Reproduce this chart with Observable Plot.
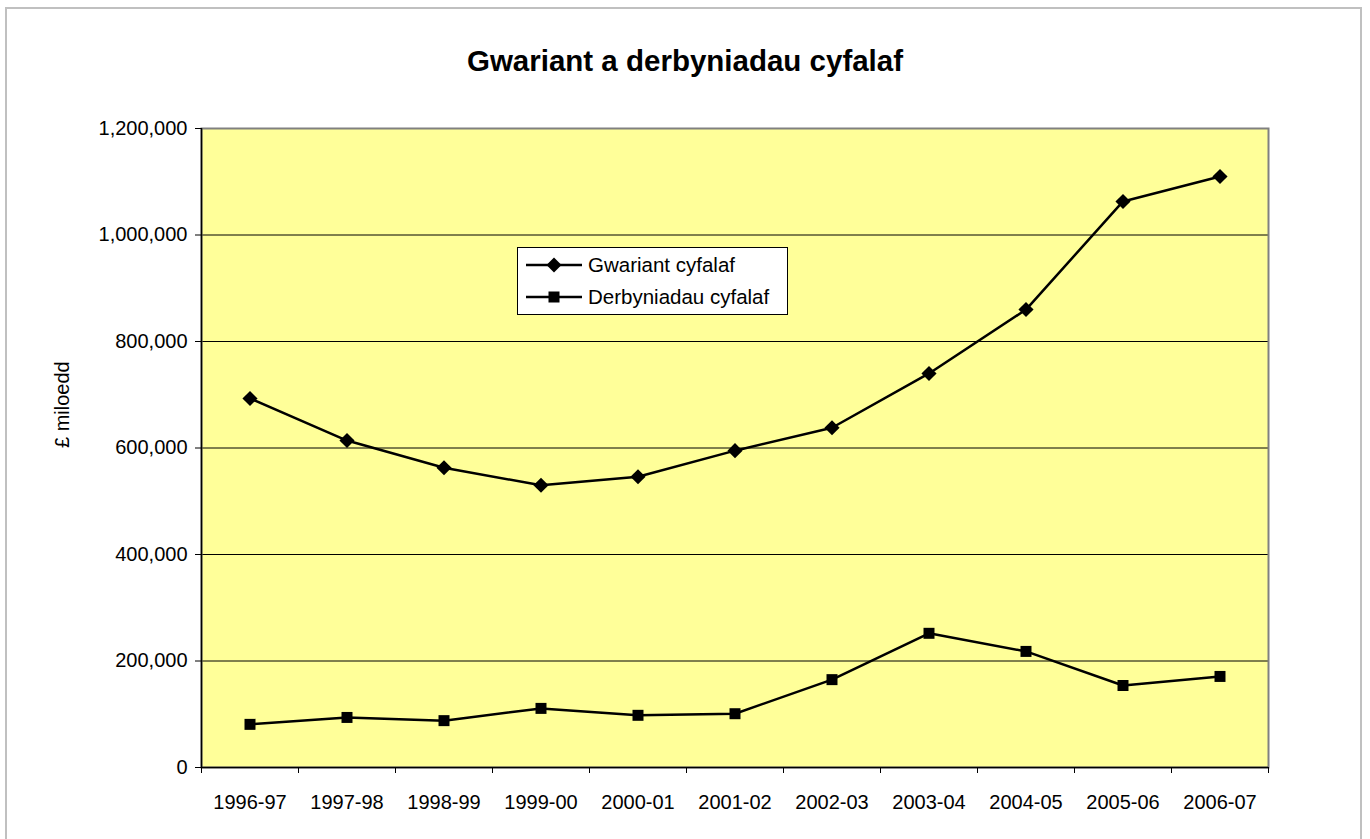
<!DOCTYPE html>
<html>
<head>
<meta charset="utf-8">
<script src="https://cdn.jsdelivr.net/npm/d3@7"></script>
<script src="https://cdn.jsdelivr.net/npm/@observablehq/plot@0.6"></script>
<style>
  html, body { margin: 0; padding: 0; background: #fff; }
  body { width: 1370px; height: 839px; position: relative; overflow: hidden; font-family: "Liberation Sans", Arial, sans-serif; }
  #frame { position: absolute; left: 5px; top: 7px; width: 1357px; height: 900px; border: 2px solid #c0c0c0; box-sizing: border-box; }
  #title { position: absolute; left: 0; width: 1370px; top: 44px; text-align: center; font-weight: bold; font-size: 29.5px; line-height: 34px; color: #000; }
  #chart { position: absolute; left: 0; top: 0; }
  #legend { position: absolute; left: 517px; top: 247px; width: 271px; height: 68px; background: #fff; border: 1px solid #000; box-sizing: border-box; }
  .row { position: absolute; left: 8px; height: 24px; display: flex; align-items: center; font-size: 20.5px; white-space: nowrap; }
  .row svg { margin-right: 6px; }
</style>
</head>
<body>
<div id="frame"></div>
<div id="title">Gwariant a derbyniadau cyfalaf</div>
<div id="chart"></div>
<div id="legend">
  <div class="row" style="top:5px"><svg width="56" height="20"><line x1="0" y1="10" x2="56" y2="10" stroke="#000" stroke-width="2.5"/><path d="M28,2.5L35.5,10L28,17.5L20.5,10Z" fill="#000"/></svg><span>Gwariant cyfalaf</span></div>
  <div class="row" style="top:37px"><svg width="56" height="20"><line x1="0" y1="10" x2="56" y2="10" stroke="#000" stroke-width="2.5"/><rect x="22.5" y="4.5" width="11" height="11" fill="#000"/></svg><span>Derbyniadau cyfalaf</span></div>
</div>
<script>
const years = ["1996-97","1997-98","1998-99","1999-00","2000-01","2001-02","2002-03","2003-04","2004-05","2005-06","2006-07"];
const gwariant = [693000, 614000, 563000, 530000, 546000, 595000, 638000, 740000, 860000, 1063000, 1110000];
const derbyniadau = [81000, 94000, 88000, 111000, 98000, 101000, 165000, 252000, 218000, 154000, 171000];
const yTicks = [0, 200000, 400000, 600000, 800000, 1000000, 1200000];
const seriesNames = ["Gwariant cyfalaf", "Derbyniadau cyfalaf"];

const rows = [];
years.forEach((yr, i) => {
  rows.push({series: seriesNames[0], idx: i + 0.5, year: yr, value: gwariant[i]});
  rows.push({series: seriesNames[1], idx: i + 0.5, year: yr, value: derbyniadau[i]});
});
const g = rows.filter(d => d.series === seriesNames[0]);
const dv = rows.filter(d => d.series === seriesNames[1]);
const bounds = d3.range(years.length + 1);
const labels = years.map((yr, i) => ({idx: i + 0.5, year: yr}));
const fmt = d3.format(",");

const plot = Plot.plot({
  width: 1370,
  height: 839,
  marginLeft: 201,
  marginRight: 102,
  marginTop: 128,
  marginBottom: 72,
  style: {fontFamily: "'Liberation Sans', Arial, sans-serif", fontSize: "20px", background: "transparent", color: "#000"},
  x: {type: "linear", domain: [0, years.length], axis: null, label: null},
  y: {domain: [0, 1200000], axis: null, label: null},
  marks: [
    Plot.frame({fill: "#ffff99", stroke: "none"}),
    Plot.ruleY(yTicks.filter(t => t > 0 && t < 1200000), {stroke: "#000", strokeWidth: 1}),
    Plot.frame({stroke: "#808080", strokeWidth: 2}),
    // y axis
    Plot.ruleX([0], {stroke: "#000", strokeWidth: 1.5}),
    Plot.axisY({ticks: yTicks, tickFormat: fmt, tickSize: 6, tickPadding: 8, fontSize: 20, stroke: "#000", label: null}),
    // x axis
    Plot.ruleY([0], {stroke: "#000", strokeWidth: 1.5}),
    Plot.axisX({ticks: bounds, tickFormat: () => "", tickSize: 6, stroke: "#000", label: null}),
    Plot.text(labels, {x: "idx", y: 0, text: "year", dy: 35, fontSize: 20, fill: "#000"}),
    Plot.text(["£ miloedd"], {frameAnchor: "left", dx: -139, rotate: -90, fontSize: 20, fill: "#000"}),
    // series
    Plot.line(g, {x: "idx", y: "value", stroke: "#000", strokeWidth: 2.5}),
    Plot.dot(g, {x: "idx", y: "value", symbol: "diamond2", r: 6.8, fill: "#000", stroke: "none"}),
    Plot.line(dv, {x: "idx", y: "value", stroke: "#000", strokeWidth: 2.5}),
    Plot.dot(dv, {x: "idx", y: "value", symbol: "square", r: 6.2, fill: "#000", stroke: "none"})
  ]
});
document.getElementById("chart").appendChild(plot);
</script>
</body>
</html>
